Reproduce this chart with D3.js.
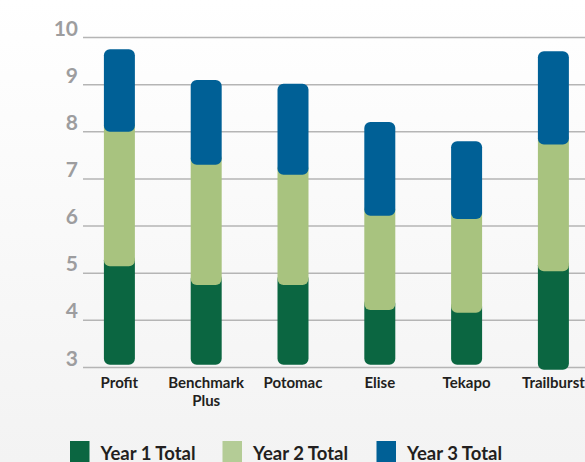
<!DOCTYPE html>
<html><head><meta charset="utf-8">
<script src="https://cdn.jsdelivr.net/npm/d3@7/dist/d3.min.js"></script>
<style>html,body{margin:0;padding:0;overflow:hidden;}svg{display:block;}</style>
</head><body>
<script>
const categories = ["Profit", "Benchmark\nPlus", "Potomac", "Elise", "Tekapo", "Trailburst"];
const base   = [3.06, 3.06, 3.06, 3.06, 3.06, 2.95];
const year1  = [5.15, 4.75, 4.75, 4.22, 4.16, 5.04];
const year2  = [8.00, 7.30, 7.09, 6.22, 6.15, 7.73];
const year3  = [9.75, 9.10, 9.02, 8.21, 7.80, 9.71];
const yTicks = [3, 4, 5, 6, 7, 8, 9, 10];
const seriesNames = ["Year 1 Total", "Year 2 Total", "Year 3 Total"];
const barColors = ["#0b6641", "#a8c37f", "#006096"];
const legendColors = ["#0b6641", "#b4cc96", "#006096"];

const W = 585, H = 462;
const svg = d3.select("body").append("svg").attr("width", W).attr("height", H);
const defs = svg.append("defs");
const grad = defs.append("linearGradient").attr("id", "bg").attr("x1", 0).attr("y1", 0).attr("x2", 0).attr("y2", 1);
grad.append("stop").attr("offset", "0%").attr("stop-color", "#ffffff");
grad.append("stop").attr("offset", "100%").attr("stop-color", "#f3f3f3");
svg.append("rect").attr("width", W).attr("height", H).attr("fill", "url(#bg)");

const y = d3.scaleLinear().domain([3, 10]).range([367.5, 37.5]);
const x = d3.scaleBand().domain(categories).range([76, 76 + 6 * 86.8]).paddingInner(0.643).paddingOuter(0.3215);

// gridlines
svg.append("g").selectAll("line").data(yTicks).join("line")
  .attr("x1", 83).attr("x2", W)
  .attr("y1", d => y(d)).attr("y2", d => y(d))
  .attr("stroke", "#b5b5b5").attr("stroke-width", 1.5);

// y tick labels
svg.append("g").selectAll("text").data(yTicks).join("text")
  .attr("x", 78).attr("y", d => y(d) - 2)
  .attr("text-anchor", "end")
  .attr("font-family", "Lato, 'Open Sans', sans-serif").attr("font-weight", "bold")
  .attr("font-size", 21).attr("fill", "#9d9d9f")
  .text(d => d);

// bars
const rx = 6, ext = 12;
const g = svg.append("g");
categories.forEach((c, i) => {
  const segs = [[base[i], year1[i]], [year1[i], year2[i]], [year2[i], year3[i]]];
  segs.forEach((s, k) => {
    const top = y(s[1]) - (k < 2 ? ext : 0);
    const bot = y(s[0]);
    g.append("rect")
      .attr("x", x(c)).attr("width", x.bandwidth())
      .attr("y", top).attr("height", bot - top)
      .attr("rx", rx).attr("ry", rx)
      .attr("fill", barColors[k]);
  });
});

// category labels
const cl = svg.append("g");
categories.forEach(c => {
  const lines = c.split("\n");
  const t = cl.append("text")
    .attr("x", x(c) + x.bandwidth() / 2).attr("y", 388)
    .attr("text-anchor", "middle")
    .attr("font-family", "Lato, sans-serif").attr("font-weight", "bold")
    .attr("font-size", 15).attr("fill", "#231f20");
  lines.forEach((l, j) => t.append("tspan").attr("x", x(c) + x.bandwidth() / 2).attr("dy", j ? 17.5 : 0).text(l));
});

// legend
const legX = [70, 222.5, 376.5];
const lg = svg.append("g");
seriesNames.forEach((n, k) => {
  lg.append("rect").attr("x", legX[k]).attr("y", 441).attr("width", 19.5).attr("height", 22).attr("fill", legendColors[k]);
  lg.append("text").attr("x", legX[k] + 30.5).attr("y", 459.5)
    .attr("font-family", "Lato, sans-serif").attr("font-weight", "bold")
    .attr("font-size", 18.5).attr("fill", "#231f20").text(n);
});
</script>
</body></html>
